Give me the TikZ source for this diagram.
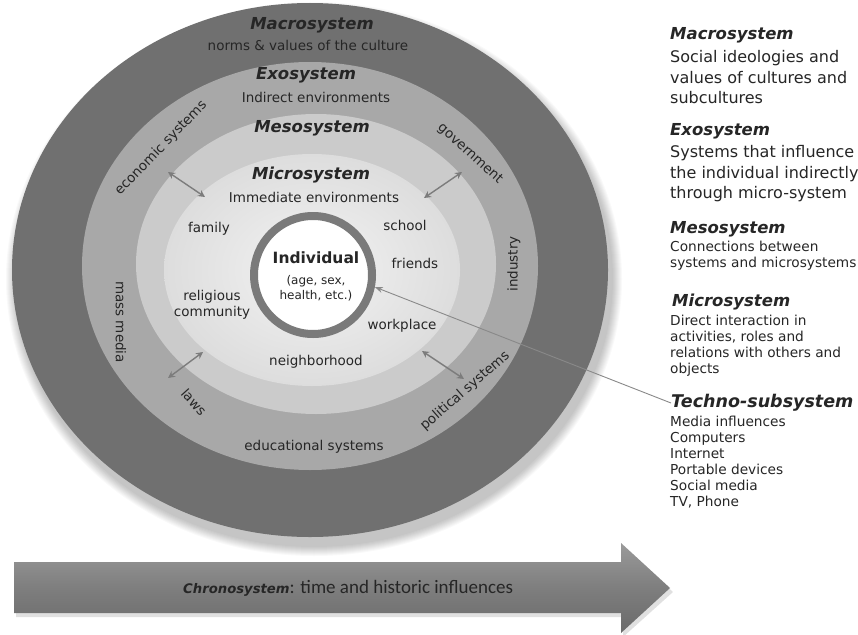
\documentclass[tikz,border=0pt]{standalone}
\usepackage{fontspec}
\setmainfont{DejaVu Sans}
\newfontfamily\carl{Carlito}
\usetikzlibrary{arrows.meta}
\definecolor{macroc}{HTML}{707070}
\definecolor{exoc}{HTML}{A8A8A8}
\definecolor{mesoc}{HTML}{CBCBCB}
\definecolor{microc}{HTML}{DDDDDD}
\definecolor{microin}{HTML}{F3F3F3}
\definecolor{ringc}{HTML}{7A7A7A}
\definecolor{txt}{HTML}{262626}
\definecolor{arrc}{HTML}{7C7C7C}
\definecolor{chronotop}{HTML}{9A9A9A}
\definecolor{chronomid}{HTML}{7E7E7E}
\definecolor{chronobot}{HTML}{6A6A6A}
\newcommand\fsz[2]{\fontsize{#1}{#2}\selectfont}
\begin{document}
\begin{tikzpicture}[x=1pt,y=-1pt,
  ttl/.style={font=\fsz{16.5}{20}\bfseries\itshape, text=txt, inner sep=0},
  lbl/.style={font=\fsz{13.5}{16}, text=txt, inner sep=0, align=center},
  hdr/.style={font=\fsz{16.5}{20}\bfseries\itshape, text=txt, inner sep=0, anchor=west},
  hdrbig/.style={font=\fsz{17.5}{20}\bfseries\itshape, text=txt, inner sep=0, anchor=west},
  bodybig/.style={font=\fsz{16}{20.5}, text=txt, inner sep=0, align=left, anchor=north west},
  bodysmall/.style={font=\fsz{13.7}{16}, text=txt, inner sep=0, align=left, anchor=north west},
  dbl/.style={draw=arrc, line width=1.4pt, {Stealth[length=7pt,width=7pt]}-{Stealth[length=7pt,width=7pt]}},
  techno/.style={draw=arrc!90, line width=0.9pt, -{Stealth[length=8pt,width=6pt]}},
]
\useasboundingbox (0,0) rectangle (858,634);
\fill[white] (0,0) rectangle (858,634);

% soft shadow of the outer ellipse
\foreach \k in {1,...,10}
  \fill[black, opacity=0.025] (314,279) ellipse [x radius={298pt+\k pt}, y radius={267pt+\k pt}];

% nested ellipses
\fill[macroc] (310,270) ellipse [x radius=298pt, y radius=267pt];
\fill[exoc] (310,266) ellipse [x radius=228pt, y radius=204pt];
\fill[mesoc] (316,264) ellipse [x radius=180pt, y radius=150pt];
\shade[inner color=microin, outer color=microc] (312,270) ellipse [x radius=148pt, y radius=116pt];

% individual ring
\node[circle, draw=ringc, line width=8pt, fill=white, minimum size=118pt, inner sep=0] (ind) at (313,275) {};
\node[font=\fsz{15.5}{18}\bfseries, text=txt, inner sep=0] (indname) at (316,258) {Individual};
\node[font=\fsz{12}{15}, text=txt, inner sep=0, align=center] (inddet) at (316,288) {(age, sex,\\health, etc.)};

% ring titles
\node[ttl] (tmacro) at (312,25) {Macrosystem};
\node[lbl] (smacro) at (308,45) {norms \& values of the culture};
\node[ttl] (texo) at (306,75) {Exosystem};
\node[lbl] (sexo) at (316,97) {Indirect environments};
\node[ttl] (tmeso) at (312,128) {Mesosystem};
\node[ttl] (tmicro) at (311,175) {Microsystem};
\node[lbl] (smicro) at (314,197) {Immediate environments};

% microsystem items
\node[lbl] (family) at (209,229) {family};
\node[lbl] (school) at (405,225) {school};
\node[lbl] (friends) at (415,263) {friends};
\node[lbl] (relig) at (212,305) {religious\\community};
\node[lbl] (workplace) at (402,326) {workplace};
\node[lbl] (neigh) at (316,362) {neighborhood};

% exosystem items
\node[lbl, rotate=46] (econ) at (161,148) {economic systems};
\node[lbl, rotate=-42] (gov) at (470,154) {government};
\node[lbl, rotate=90] (industry) at (514,264) {industry};
\node[lbl, rotate=-90] (massmedia) at (121,322) {mass media};
\node[lbl, rotate=-48] (laws) at (194,402) {laws};
\node[lbl] (edu) at (314,447) {educational systems};
\node[lbl, rotate=41] (pol) at (465,391) {political systems};

% mesosystem double arrows
\coordinate (ula) at (168,172); \coordinate (ulb) at (205,197);
\coordinate (ura) at (462,172); \coordinate (urb) at (424,198);
\coordinate (lla) at (168,378); \coordinate (llb) at (203,352);
\coordinate (lra) at (464,379); \coordinate (lrb) at (422,351);
\draw[dbl] (ula) -- (ulb);
\draw[dbl] (ura) -- (urb);
\draw[dbl] (lla) -- (llb);
\draw[dbl] (lra) -- (lrb);

% right column
\node[hdr] (rmacro) at (670,35) {Macrosystem};
\node[bodybig] (rmacrob) at (670,50.5) {Social ideologies and\\values of cultures and\\subcultures};
\node[hdr] (rexo) at (670,131) {Exosystem};
\node[bodybig] (rexob) at (670,145.5) {Systems that influence\\the individual indirectly\\through micro-system};
\node[hdr] (rmeso) at (670,229) {Mesosystem};
\node[bodysmall] (rmesob) at (670,240.4) {Connections between\\systems and microsystems};
\node[hdr] (rmicro) at (672,302) {Microsystem};
\node[bodysmall] (rmicrob) at (670,314.4) {Direct interaction in\\activities, roles and\\relations with others and\\objects};
\node[hdrbig] (rtechno) at (671,403) {Techno-subsystem};
\node[bodysmall] (rtechnob) at (670,415.4) {Media influences\\Computers\\Internet\\Portable devices\\Social media\\TV, Phone};

\draw[techno] (rtechno.west) -- (ind.-11);

% chronosystem arrow
\fill[black, opacity=0.12] (16,566) -- (623,566) -- (623,547) -- (673,592) -- (623,637) -- (623,617) -- (16,617) -- cycle;
\shade[top color=chronotop, bottom color=chronobot, middle color=chronomid] (14,562) -- (621,562) -- (621,543) -- (670,588) -- (621,633) -- (621,613) -- (14,613) -- cycle;
\node[text=txt, inner sep=0, anchor=west] (chrono) at (183,588) {\fsz{13.2}{16}\textbf{\textit{Chronosystem}}\carl\fsz{19}{22}: time and historic influences};
\end{tikzpicture}
\end{document}
